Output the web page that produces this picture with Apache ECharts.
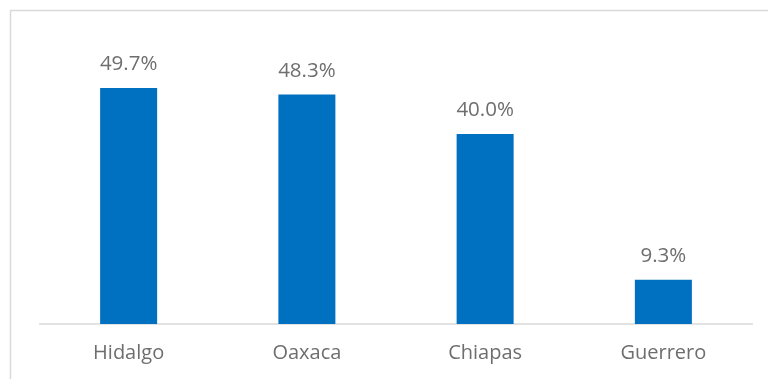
<!DOCTYPE html>
<html>
<head>
<meta charset="utf-8">
<script src="https://cdn.jsdelivr.net/npm/echarts@6/dist/echarts.min.js"></script>
<style>
html,body{margin:0;padding:0;background:#fff;}
#main{width:768px;height:379px;}
</style>
</head>
<body>
<div id="main"></div>
<script>
const categories = ["Hidalgo", "Oaxaca", "Chiapas", "Guerrero"];
const values = [49.7, 48.3, 40.0, 9.3];

const chart = echarts.init(document.getElementById('main'), null, {renderer: 'canvas'});
chart.setOption({
  animation: false,
  backgroundColor: '#ffffff',
  graphic: [{
    type: 'polyline',
    shape: {points: [[10.5, 379], [10.5, 10.5], [768, 10.5]]},
    style: {stroke: '#d9d9d9', lineWidth: 1.5, fill: null}
  }],
  grid: {left: 39.5, right: 15.5, top: 39, bottom: 55, containLabel: false},
  xAxis: {
    type: 'category',
    data: categories,
    axisLine: {show: true, lineStyle: {color: '#d9d9d9', width: 1.5}},
    axisTick: {show: false},
    axisLabel: {color: '#6e6e6e', fontSize: 20, fontFamily: 'Open Sans', margin: 19}
  },
  yAxis: {
    type: 'value',
    min: 0, max: 60,
    show: false,
    splitLine: {show: false}
  },
  series: [{
    type: 'bar',
    data: values,
    barWidth: 57,
    itemStyle: {color: '#0070C0'},
    label: {
      show: true,
      position: 'top',
      distance: 13,
      color: '#6e6e6e',
      fontSize: 20.5,
      fontFamily: 'Open Sans',
      formatter: p => p.value.toFixed(1) + '%'
    }
  }]
});
</script>
</body>
</html>
